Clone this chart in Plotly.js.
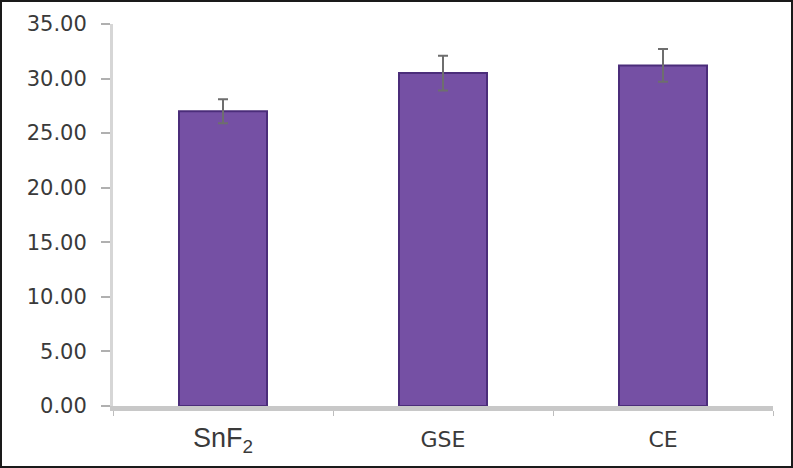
<!DOCTYPE html>
<html>
<head>
<meta charset="utf-8">
<script src="https://cdn.plot.ly/plotly-3.0.1.min.js"></script>
<style>
  body { margin: 0; background: #fff; }
  #frame { width: 789px; height: 464px; border: 2px solid #1a1a1a; background: #fff; }
  #chart { width: 789px; height: 464px; }
</style>
</head>
<body>
<div id="frame"><div id="chart"></div></div>
<script>
// group names and mean values with their error
const groups = ['SnF2', 'GSE', 'CE'];
const groupLabels = ['SnF<sub>2</sub>', 'GSE', 'CE'];
const means = [27.0, 30.5, 31.2];
const errors = [1.1, 1.6, 1.5];
const yTicks = [0, 5, 10, 15, 20, 25, 30, 35];

const bars = {
    x: groups,
    y: means,
    type: 'bar',
    width: 0.4,
    marker: { color: '#7550a4', line: { color: '#4b2d7a', width: 2 } },
    error_y: { type: 'data', array: errors, visible: true, color: '#6e6e6e', thickness: 2, width: 5 },
    hoverinfo: 'x+y'
};

// first label drawn bigger, as in the original
const tickText = groupLabels.map((t, i) =>
    i === 0 ? `<span style="font-size:27px;font-family:'Liberation Sans'">${t}</span>` : t);

Plotly.newPlot('chart', [bars], {
    width: 789, height: 464,
    margin: { l: 111, r: 18, t: 22, b: 60 },
    paper_bgcolor: '#fff', plot_bgcolor: '#fff',
    showlegend: false,
    xaxis: {
        range: [-0.5, 2.5],
        tickvals: groups, ticktext: tickText,
        tickson: 'boundaries', ticks: 'outside', ticklen: 5, tickcolor: '#bdbdbd',
        ticklabelstandoff: 10,
        showline: true, linecolor: '#c8c8c8', linewidth: 5,
        showgrid: false, zeroline: false,
        tickfont: { family: 'DejaVu Sans', size: 22, color: '#3a3a3a' }
    },
    yaxis: {
        range: [0, 35],
        tickvals: yTicks, tickformat: '.2f',
        ticks: 'outside', ticklen: 9, tickcolor: '#b0b0b0', tickwidth: 2,
        ticklabelstandoff: 10,
        showline: true, linecolor: '#d6d6d6', linewidth: 3,
        showgrid: false, zeroline: false,
        tickfont: { family: 'DejaVu Sans', size: 21, color: '#3a3a3a' }
    }
}, { displayModeBar: false });
</script>
</body>
</html>
